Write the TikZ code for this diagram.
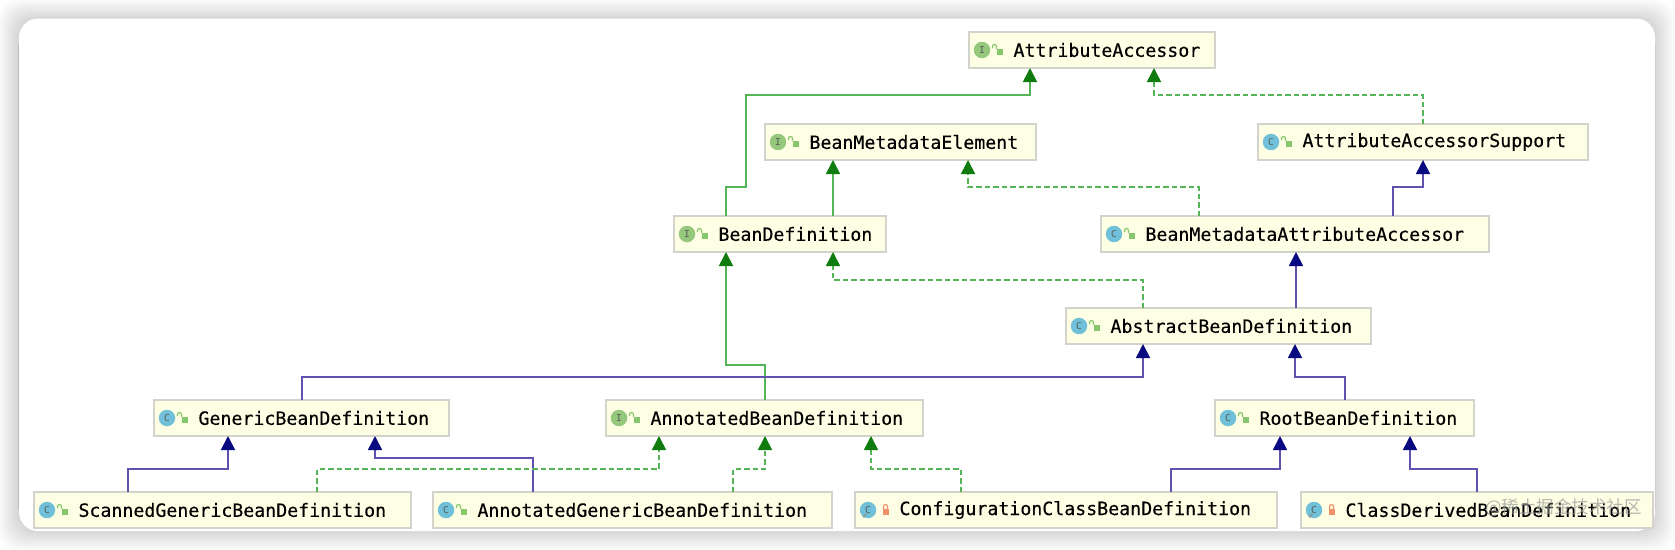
\documentclass[tikz,border=0pt]{standalone}
\usepackage{fontspec}
\setmonofont{DejaVu Sans Mono}
\newfontfamily\lblfont[FakeBold=0.3]{DejaVu Sans Mono}
\newfontfamily\cjkwm{Noto Sans CJK SC}
\usetikzlibrary{arrows.meta}
\definecolor{boxfill}{HTML}{FDFEE3}
\definecolor{boxline}{HTML}{D2D3CA}
\definecolor{gline}{HTML}{55B455}
\definecolor{ghead}{HTML}{107C10}
\definecolor{bline}{HTML}{5F52AE}
\definecolor{bhead}{HTML}{0A0A80}
\definecolor{iface}{HTML}{95C77D}
\definecolor{klass}{HTML}{6FC0D8}
\definecolor{lockg}{HTML}{86C66C}
\definecolor{locko}{HTML}{F0906A}
\tikzset{
  cls/.style={draw=boxline,fill=boxfill,line width=1.6pt,anchor=north west,inner sep=0pt,outer sep=0pt,minimum height=36pt},
  icon/.style={circle,inner sep=0pt,minimum size=16.5pt,text=black!65,font=\ttfamily\fontsize{9.5}{9.5}\selectfont},
  inh/.style={gline,line width=1.7pt,-{Triangle[width=14pt,length=14pt,color=ghead]}},
  impl/.style={gline,line width=1.6pt,dash pattern=on 5.5pt off 3pt,-{Triangle[width=14pt,length=14pt,color=ghead]}},
  ext/.style={bline,line width=1.7pt,-{Triangle[width=14pt,length=14pt,color=bhead]}},
}
% #1 name, #2 left, #3 right, #4 top, #5 label, #6 icon colour, #7 letter, #8 lock colour, #9 open(1)/closed(0)
\newcommand{\clsbox}[9]{%
  \pgfmathsetlengthmacro{\bw}{#3-#2}%
  \node[cls,minimum width=\bw] (#1) at (#2,#4)
    {\makebox[\bw][l]{\hspace{44.5pt}\lblfont\fontsize{18.25}{20}\selectfont #5}};
  \node[icon,fill=#6] (#1-icon) at ([xshift=13pt]#1.west) {#7};
  \coordinate (#1-lock) at ([xshift=28.5pt]#1.west);
  \fill[#8] ([xshift=-1pt,yshift=-4.5pt]#1-lock) rectangle ([xshift=5pt,yshift=1.5pt]#1-lock);
  \ifnum#9=1
    \draw[#8,line width=1.2pt] ([xshift=-1pt,yshift=1pt]#1-lock) -- ++(0pt,2.5pt) arc (0:180:2pt and 2pt) -- ++(0pt,-1.5pt);
  \else
    \draw[#8,line width=1.2pt] ([xshift=0pt,yshift=1pt]#1-lock) -- ++(0pt,2.5pt) arc (180:0:2pt and 2pt) -- ++(0pt,-2.5pt);
  \fi
}
\begin{document}
\begin{tikzpicture}[x=1pt,y=-1pt]
\useasboundingbox (0,0) rectangle (1675,549);
\clip (0,0) rectangle (1675,549);
\fill[white] (0,0) rectangle (1675,549);
% card shadow
\foreach \d in {20,19,...,1}{
  \fill[black,opacity=0.0075,rounded corners=20pt] (18-\d,19-\d) rectangle (1655+\d,531+\d);
}
\draw[black!50,line width=1pt,opacity=.3] (18.5,45) -- (18.5,510);
\draw[black!40,line width=1pt,opacity=.25] (1655.5,45) -- (1655.5,510);
\fill[white,rounded corners=19pt] (19,18.5) rectangle (1655,531);
% classes
\clsbox{aa}{969}{1215}{32}{AttributeAccessor}{iface}{I}{lockg}{1}
\clsbox{bme}{765}{1036}{124}{BeanMetadataElement}{iface}{I}{lockg}{1}
\clsbox{aas}{1258}{1588}{124}{AttributeAccessorSupport}{klass}{C}{lockg}{1}
\clsbox{bd}{674}{886}{216}{BeanDefinition}{iface}{I}{lockg}{1}
\clsbox{bmaa}{1101}{1489}{216}{BeanMetadataAttributeAccessor}{klass}{C}{lockg}{1}
\clsbox{abd}{1066}{1371}{308}{AbstractBeanDefinition}{klass}{C}{lockg}{1}
\clsbox{gbd}{154}{449}{400}{GenericBeanDefinition}{klass}{C}{lockg}{1}
\clsbox{anbd}{606}{923}{400}{AnnotatedBeanDefinition}{iface}{I}{lockg}{1}
\clsbox{rbd}{1215}{1474}{400}{RootBeanDefinition}{klass}{C}{lockg}{1}
\clsbox{sgbd}{34}{411}{492}{ScannedGenericBeanDefinition}{klass}{C}{lockg}{1}
\clsbox{agbd}{433}{832}{492}{AnnotatedGenericBeanDefinition}{klass}{C}{lockg}{1}
\clsbox{ccbd}{855}{1277}{492}{ConfigurationClassBeanDefinition}{klass}{C}{locko}{0}
\clsbox{cdbd}{1301}{1653}{492}{ClassDerivedBeanDefinition}{klass}{C}{locko}{0}
% wrench marks on the two private classes
\draw[black!45,line width=2pt,opacity=.7] ([xshift=-5pt,yshift=-7pt]ccbd-icon.center) -- ++(3.5,-3);
\draw[black!45,line width=2pt,opacity=.7] ([xshift=-5pt,yshift=-7pt]cdbd-icon.center) -- ++(3.5,-3);
% watermark
\node[anchor=west,inner sep=0pt,text=black!40,opacity=.7,font=\cjkwm\fontsize{17.5}{18}\selectfont] (wm) at (1485,508) {@稀土掘金技术社区};
% connectors
\draw[inh] ([xshift=52pt]bd.north west) -- ++(0,-29) -- ++(20,0) -- ++(0,-92) -| ([xshift=61pt]aa.south west);
\draw[inh] ([xshift=159pt]bd.north west) -- ([xshift=68pt]bme.south west);
\draw[impl] ([xshift=165pt]aas.north west) -- ++(0,-29) -| ([xshift=185pt]aa.south west);
\draw[ext] ([xshift=292pt]bmaa.north west) -- ++(0,-29) -| ([xshift=165pt]aas.south west);
\draw[impl] ([xshift=98pt]bmaa.north west) -- ++(0,-29) -| ([xshift=203pt]bme.south west);
\draw[ext] ([xshift=230pt]abd.north west) -- ([xshift=195pt]bmaa.south west);
\draw[impl] ([xshift=77pt]abd.north west) -- ++(0,-28) -| ([xshift=159pt]bd.south west);
\draw[inh] ([xshift=159pt]anbd.north west) -- ++(0,-35) -| ([xshift=52pt]bd.south west);
\draw[ext] ([xshift=148pt]gbd.north west) -- ++(0,-23) -| ([xshift=77pt]abd.south west);
\draw[ext] ([xshift=130pt]rbd.north west) -- ++(0,-23) -| ([xshift=229pt]abd.south west);
\draw[ext] ([xshift=94pt]sgbd.north west) -- ++(0,-23) -| ([xshift=74pt]gbd.south west);
\draw[ext] ([xshift=100pt]agbd.north west) -- ++(0,-34) -| ([xshift=221pt]gbd.south west);
\draw[impl] ([xshift=283pt]sgbd.north west) -- ++(0,-23) -| ([xshift=53pt]anbd.south west);
\draw[impl] ([xshift=300pt]agbd.north west) -- ++(0,-23) -| ([xshift=159pt]anbd.south west);
\draw[impl] ([xshift=106pt]ccbd.north west) -- ++(0,-23) -| ([xshift=265pt]anbd.south west);
\draw[ext] ([xshift=316pt]ccbd.north west) -- ++(0,-23) -| ([xshift=65pt]rbd.south west);
\draw[ext] ([xshift=176pt]cdbd.north west) -- ++(0,-23) -| ([xshift=195pt]rbd.south west);
\end{tikzpicture}
\end{document}
